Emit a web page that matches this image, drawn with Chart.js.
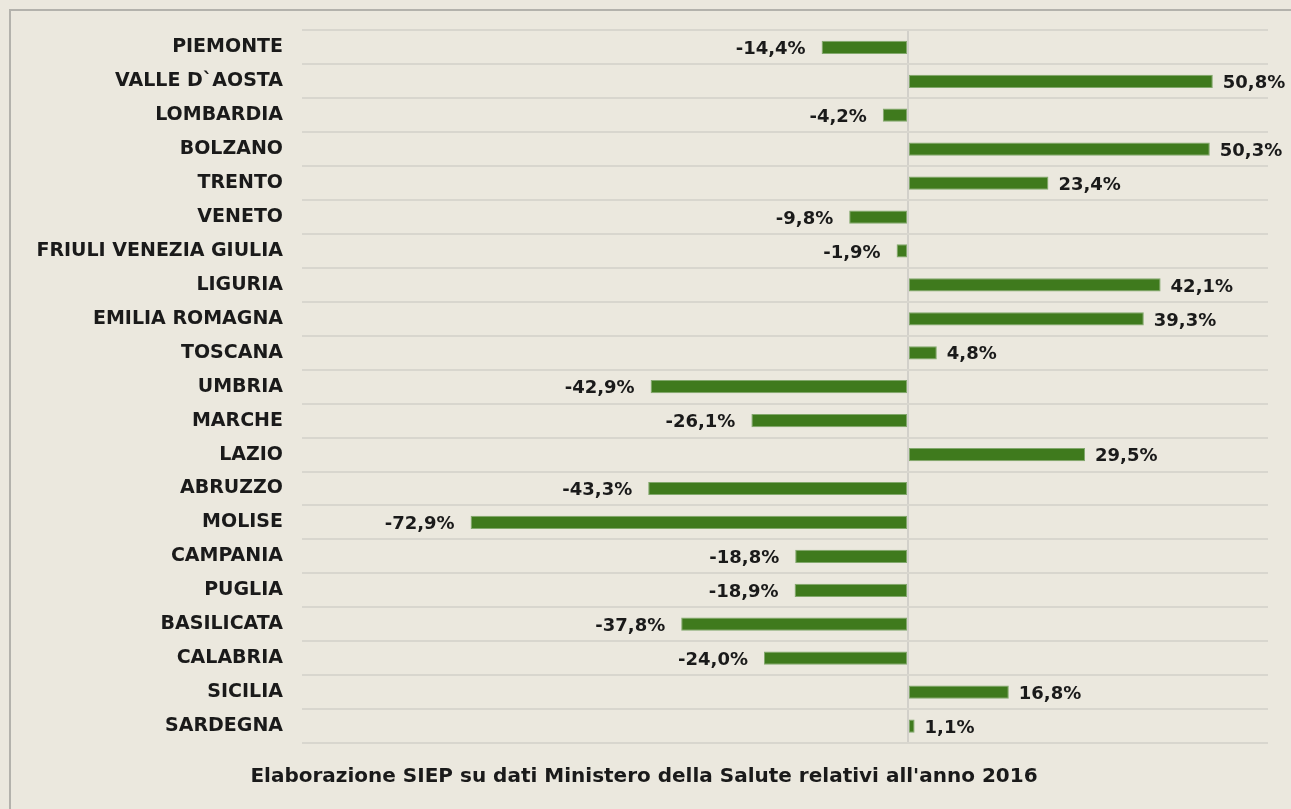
<!DOCTYPE html>
<html>
<head>
<meta charset="utf-8">
<script src="https://cdn.jsdelivr.net/npm/chart.js@4"></script>
<style>
  html, body { margin: 0; padding: 0; background: #ebe8de; overflow: hidden; }
  .frame {
    position: absolute; left: 9px; top: 9px; width: 1300px; height: 820px;
    border-left: 2px solid #b3b2ac; border-top: 2px solid #b3b2ac;
    box-sizing: border-box;
  }
  .wrap { position: absolute; left: 0; top: 0; width: 1291px; height: 809px; }
</style>
</head>
<body>
<div class="frame"></div>
<div class="wrap"><canvas id="regionChart" width="1291" height="809"></canvas></div>
<script>
const regions = ['PIEMONTE', 'VALLE D`AOSTA', 'LOMBARDIA', 'BOLZANO', 'TRENTO', 'VENETO',
  'FRIULI VENEZIA GIULIA', 'LIGURIA', 'EMILIA ROMAGNA', 'TOSCANA', 'UMBRIA', 'MARCHE',
  'LAZIO', 'ABRUZZO', 'MOLISE', 'CAMPANIA', 'PUGLIA', 'BASILICATA', 'CALABRIA',
  'SICILIA', 'SARDEGNA'];
const variation = [-14.4, 50.8, -4.2, 50.3, 23.4, -9.8, -1.9, 42.1, 39.3, 4.8, -42.9,
  -26.1, 29.5, -43.3, -72.9, -18.8, -18.9, -37.8, -24.0, 16.8, 1.1];
const sourceNote = "Elaborazione SIEP su dati Ministero della Salute relativi all'anno 2016";

const fontFamily = '"DejaVu Sans", Verdana, sans-serif';
const textColor = '#1a1a1a';

// value labels beside each bar end
const valueLabels = {
  id: 'valueLabels',
  afterDatasetsDraw(chart) {
    const { ctx } = chart;
    const meta = chart.getDatasetMeta(0);
    ctx.save();
    ctx.font = 'bold 18px ' + fontFamily;
    ctx.fillStyle = textColor;
    ctx.textBaseline = 'middle';
    meta.data.forEach((bar, i) => {
      const v = variation[i];
      const txt = v.toFixed(1).replace('.', ',') + '%';
      if (v >= 0) {
        ctx.textAlign = 'left';
        ctx.fillText(txt, bar.x + 10, bar.y + 2);
      } else {
        ctx.textAlign = 'right';
        ctx.fillText(txt, bar.x - 16, bar.y + 2);
      }
    });
    ctx.restore();
  }
};

const ctx = document.getElementById('regionChart');
new Chart(ctx, {
  type: 'bar',
  data: {
    labels: regions,
    datasets: [{
      data: variation,
      backgroundColor: '#3f7a1d',
      borderColor: '#82a86c',
      borderWidth: 1,
      borderSkipped: false,
      barPercentage: 0.39,
      categoryPercentage: 1
    }]
  },
  options: {
    indexAxis: 'y',
    responsive: false,
    animation: false,
    layout: { padding: { left: 20, right: 23, top: 30, bottom: 0 } },
    plugins: {
      legend: { display: false },
      tooltip: { enabled: false },
      title: {
        display: true,
        position: 'bottom',
        text: sourceNote,
        color: textColor,
        font: { family: fontFamily, size: 20, weight: 'bold', lineHeight: 1.2 },
        padding: { top: 22, bottom: 20 }
      }
    },
    scales: {
      x: {
        min: -101,
        max: 60,
        ticks: { display: false },
        border: { display: false },
        grid: {
          drawTicks: false,
          color: (c) => (c.tick && c.tick.value === 0 ? '#d2d0ca' : 'rgba(0,0,0,0)'),
          lineWidth: 2
        }
      },
      y: {
        offset: true,
        border: { display: false },
        grid: { offset: true, drawTicks: false, color: '#d8d6ce', lineWidth: 2 },
        afterFit: (scale) => { scale.width = 282; },
        ticks: {
          color: textColor,
          padding: 19,
          font: { family: fontFamily, size: 19, weight: 'bold' }
        }
      }
    }
  },
  plugins: [valueLabels]
});
</script>
</body>
</html>
